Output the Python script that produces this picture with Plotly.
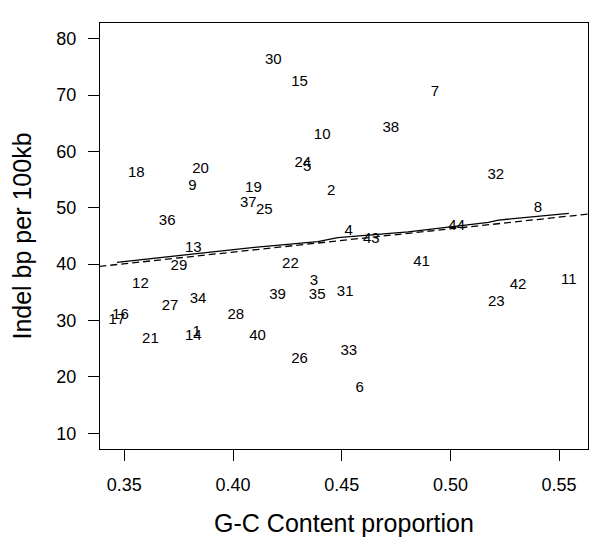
import plotly.graph_objects as go

# point labels (sequence ids) with G-C content and indel rate
ids = [str(i) for i in range(1, 45)]
gc = [0.3833, 0.4452, 0.4372, 0.4532, 0.4341, 0.4583, 0.4929, 0.5403, 0.3813, 0.4410,
      0.5545, 0.3574, 0.3817, 0.3817, 0.4306, 0.3482, 0.3466, 0.3555, 0.4094, 0.3851,
      0.3620, 0.4264, 0.5211, 0.4321, 0.4144, 0.4306, 0.3710, 0.4013, 0.3751, 0.4185,
      0.4516, 0.5209, 0.4533, 0.3839, 0.4387, 0.3697, 0.4070, 0.4726, 0.4205, 0.4113,
      0.4867, 0.5311, 0.4636, 0.5029]
indel = [27.9, 52.9, 37.0, 45.8, 57.2, 18.0, 70.6, 50.0, 53.85, 62.8,
         37.2, 36.4, 42.8, 27.2, 72.2, 30.9, 30.0, 56.1, 53.4, 56.8,
         26.7, 40.0, 33.25, 57.9, 49.6, 23.2, 32.5, 30.9, 39.6, 76.2,
         35.0, 55.8, 24.6, 33.8, 34.5, 47.7, 50.8, 64.1, 34.5, 27.2,
         40.3, 36.2, 44.5, 46.7]

# smoothed curve (solid) and regression line (dashed)
smooth_x = [0.3466, 0.3697, 0.3836, 0.4098, 0.4390, 0.4482, 0.4806, 0.5175, 0.5221, 0.5545]
smooth_y = [40.33, 41.34, 41.93, 42.99, 44.0, 44.71, 45.74, 47.42, 47.82, 49.0]
fit_x = [0.3385, 0.5635]
fit_y = [39.6, 48.9]

xticks = [0.35, 0.40, 0.45, 0.50, 0.55]
yticks = [10, 20, 30, 40, 50, 60, 70, 80]

FONT = "Liberation Sans, Arial, Helvetica, sans-serif"

fig = go.Figure()
fig.add_trace(go.Scatter(
    x=fit_x, y=fit_y, mode="lines",
    line=dict(color="black", width=1.3, dash="7px,4px"),
))
fig.add_trace(go.Scatter(
    x=smooth_x, y=smooth_y, mode="lines",
    line=dict(color="black", width=1.3),
))
fig.add_trace(go.Scatter(
    x=gc, y=indel, mode="text", text=ids,
    textposition="middle center",
    textfont=dict(family=FONT, size=15, color="black"),
))

axis_common = dict(
    showline=True, linecolor="black", linewidth=1.2, mirror=True,
    ticks="outside", ticklen=11, tickcolor="black", tickwidth=1.2,
    showgrid=False, zeroline=False,
    tickfont=dict(family=FONT, size=18, color="black"),
)

fig.update_layout(
    width=600, height=545,
    margin=dict(l=92, r=20, t=15, b=104),
    plot_bgcolor="white", paper_bgcolor="white",
    showlegend=False,
    xaxis=dict(
        range=[0.3388, 0.5633], tickvals=xticks, tickformat=".2f",
        title=dict(text="G-C Content proportion", font=dict(family=FONT, size=25, color="black"), standoff=20),
        ticklabelstandoff=8,
        **axis_common,
    ),
    yaxis=dict(
        range=[7.2, 82.8], tickvals=yticks,
        title=dict(text="Indel bp per 100kb", font=dict(family=FONT, size=25, color="black"), standoff=18),
        ticklabelstandoff=8,
        **axis_common,
    ),
)

fig.write_html("out.html")
